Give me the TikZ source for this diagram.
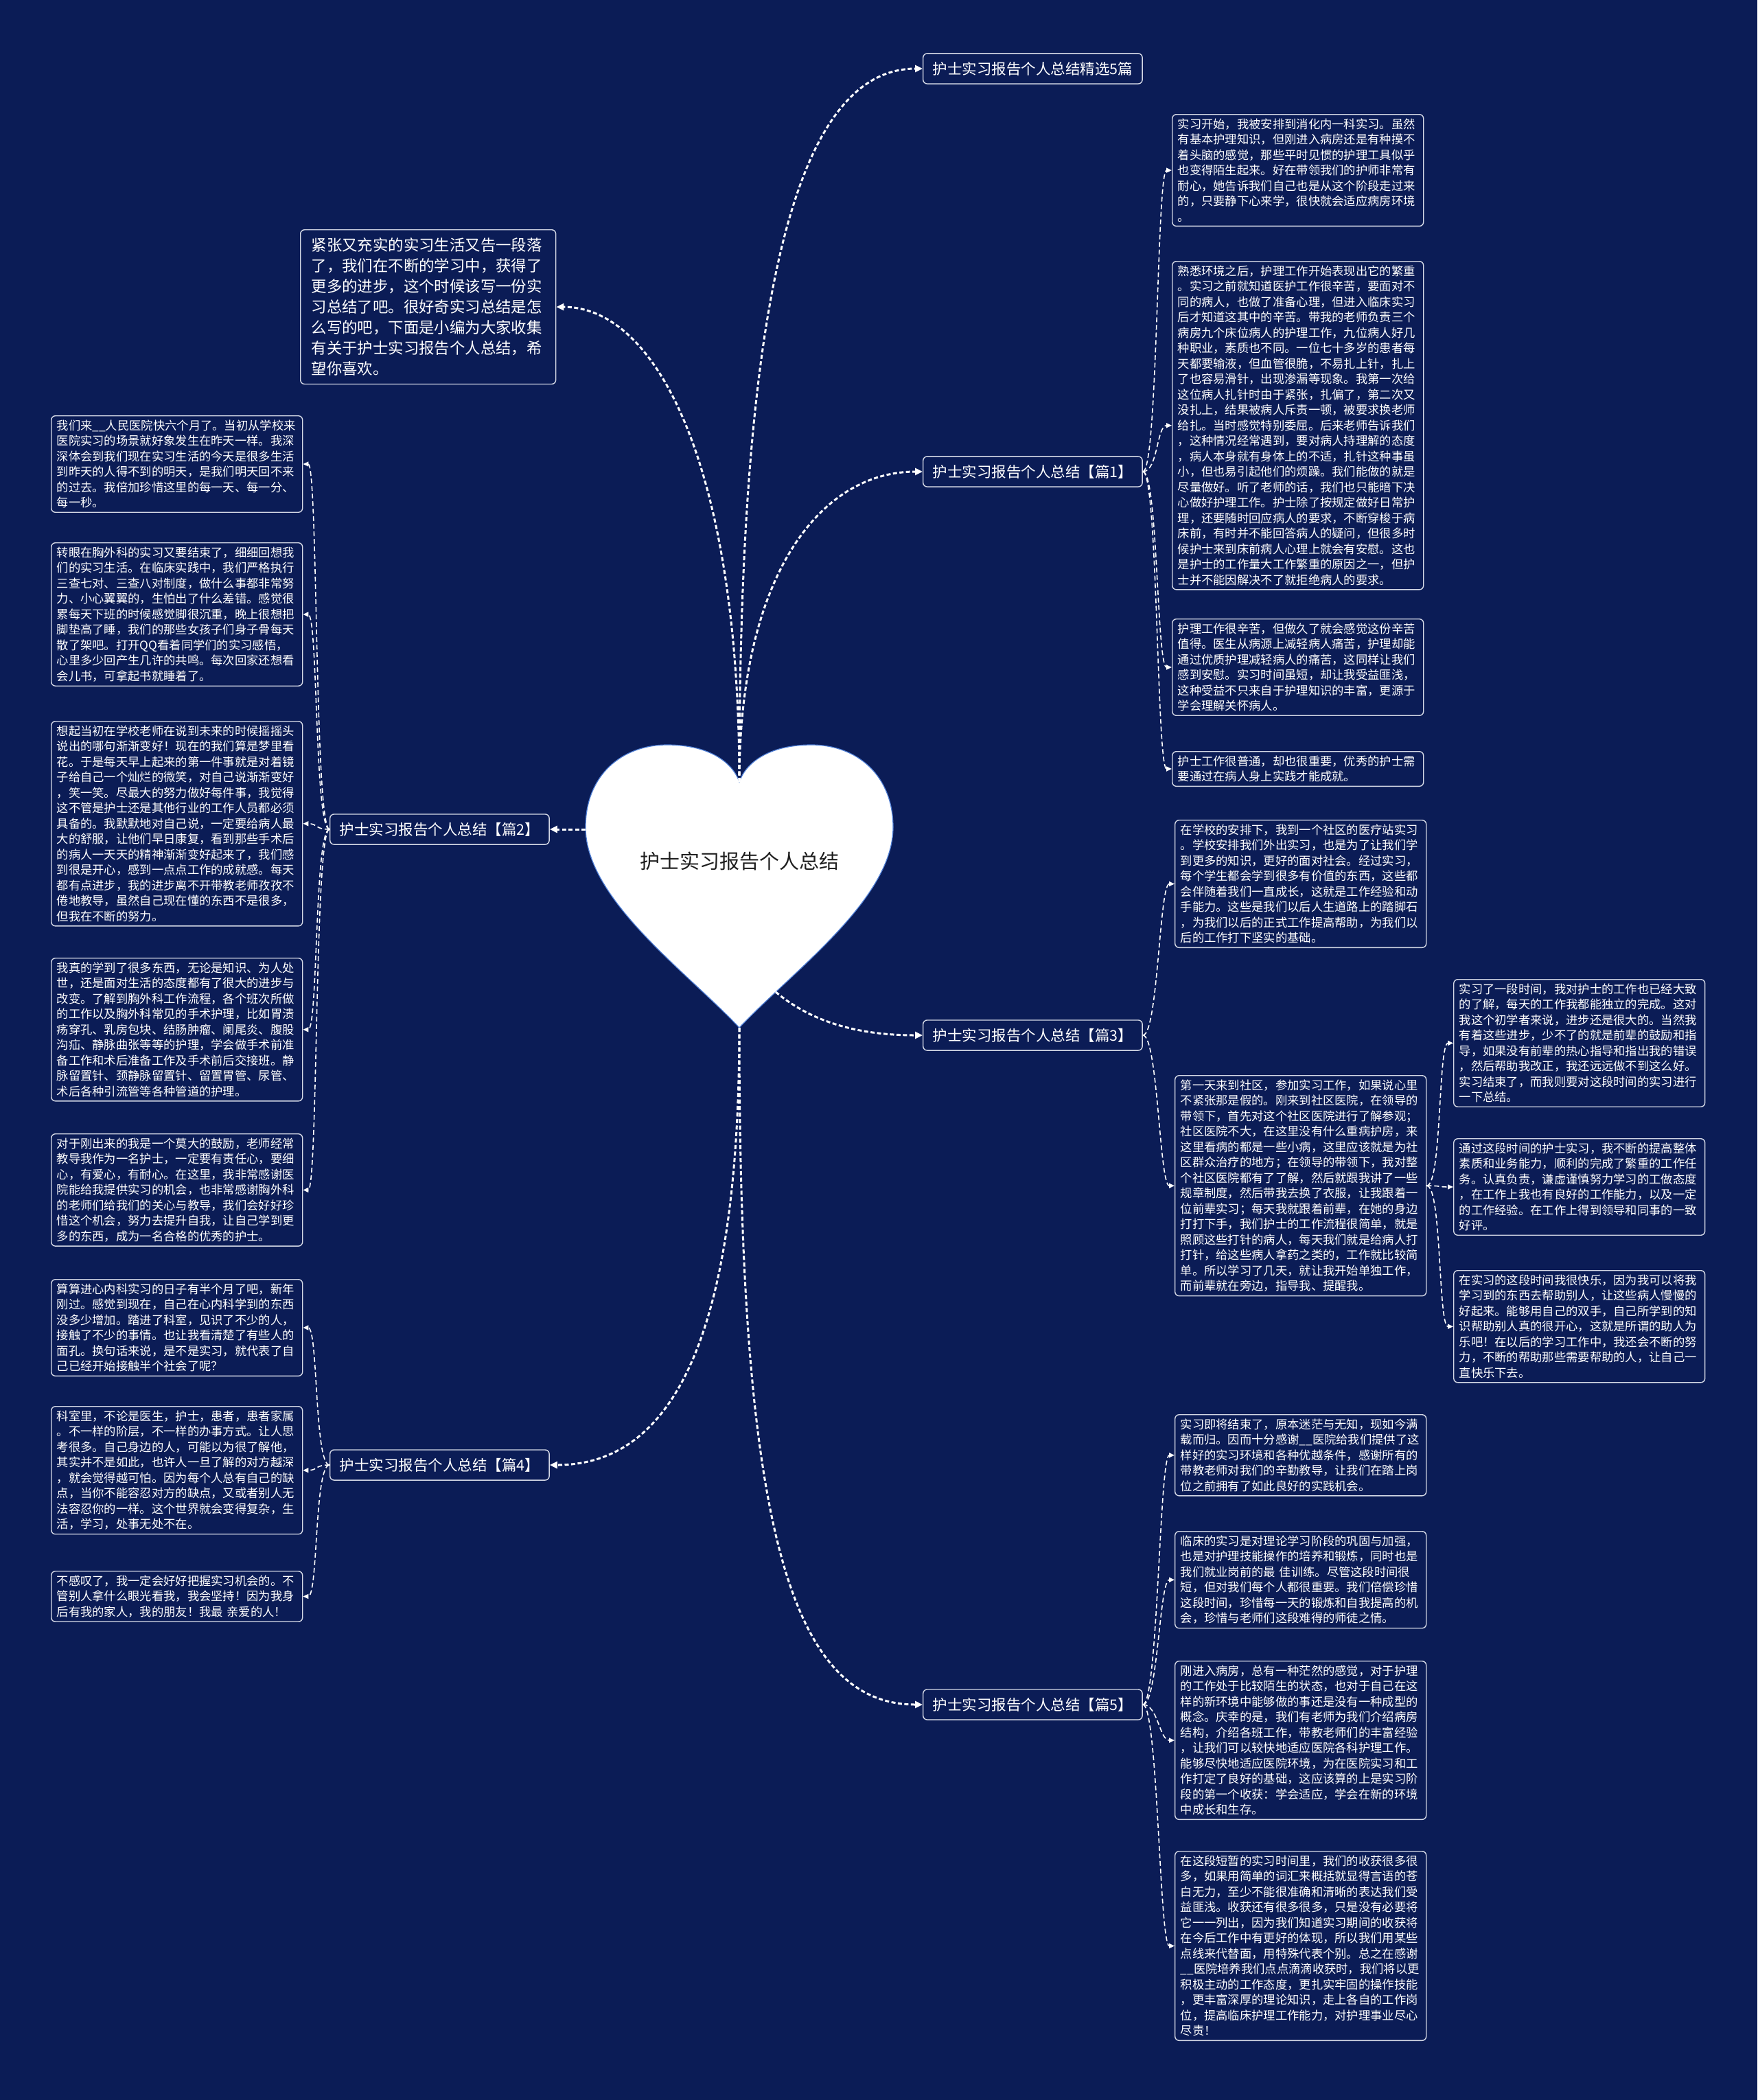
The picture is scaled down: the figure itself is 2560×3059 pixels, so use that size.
\documentclass[tikz,border=0pt]{standalone}
\usepackage{fontspec}
\setmainfont{Noto Sans CJK SC}
\usepackage{tikz}
\usetikzlibrary{arrows.meta}
\definecolor{mmbg}{HTML}{0B1C56}
\definecolor{mmrule}{HTML}{D5D9E6}
\definecolor{mmheart}{HTML}{4F7FD6}
\definecolor{mmink}{HTML}{1E1E1E}

\begin{document}
\begin{tikzpicture}[
  x=1pt,y=-1pt,
  branch/.style={draw=mmrule,fill=mmbg,rounded corners=6pt,line width=1.4pt,text=white,anchor=west,inner xsep=14pt,inner ysep=12pt,font=\fontsize{21.5}{26}\selectfont},
  leaf/.style={draw=mmrule,fill=mmbg,rounded corners=6pt,line width=1.4pt,text=white,anchor=north west,align=left,text width=350pt,inner xsep=8pt,inner ysep=6pt,font=\fontsize{17.3}{22.5}\selectfont},
  intro/.style={leaf,text width=340pt,inner xsep=16pt,inner ysep=12pt,font=\fontsize{22.4}{30}\selectfont},
  trunk/.style={-{Triangle[length=11pt,width=10pt]},draw=white,line width=3pt,dash pattern=on 6pt off 3.5pt},
  twig/.style={-{Triangle[length=8pt,width=7pt]},draw=white,line width=1.6pt,dash pattern=on 7pt off 4pt}
]
\fill[mmbg] (0,0) rectangle (2560,3059);

% heart in the middle
\filldraw[fill=white,draw=mmheart,line width=1.2pt]
  (1077,1497) .. controls (1000,1415) and (853,1310) .. (853,1205)
  .. controls (853,1130) and (905,1085) .. (972,1085)
  .. controls (1035,1085) and (1068,1112) .. (1077,1139)
  .. controls (1086,1112) and (1119,1085) .. (1182,1085)
  .. controls (1249,1085) and (1301,1130) .. (1301,1205)
  .. controls (1301,1310) and (1154,1415) .. (1077,1497) -- cycle;
\node[text=mmink,font=\fontsize{29}{34}\selectfont] (root) at (1077,1254) {护士实习报告个人总结};
\coordinate (hTop) at (1077,1139);
\coordinate (hBot) at (1077,1497);
\coordinate (hLeft) at (853,1208);
\coordinate (hRight) at (1130,1445);

% first level
\node[branch] (top) at (1344,100) {护士实习报告个人总结精选5篇};
\node[intro] (intro) at (437,334) {紧张又充实的实习生活又告一段落\\了，我们在不断的学习中，获得了\\更多的进步，这个时候该写一份实\\习总结了吧。很好奇实习总结是怎\\么写的吧，下面是小编为大家收集\\有关于护士实习报告个人总结，希\\望你喜欢。};
\node[branch] (p1) at (1344,687) {护士实习报告个人总结【篇1】};
\node[branch] (p2) at (480,1208) {护士实习报告个人总结【篇2】};
\node[branch] (p3) at (1344,1508) {护士实习报告个人总结【篇3】};
\node[branch] (p4) at (480,2134) {护士实习报告个人总结【篇4】};
\node[branch] (p5) at (1344,2483) {护士实习报告个人总结【篇5】};

% 篇1
\node[leaf] (a1) at (1707,166) {实习开始，我被安排到消化内一科实习。虽然\\有基本护理知识，但刚进入病房还是有种摸不\\着头脑的感觉，那些平时见惯的护理工具似乎\\也变得陌生起来。好在带领我们的护师非常有\\耐心，她告诉我们自己也是从这个阶段走过来\\的，只要静下心来学，很快就会适应病房环境\\。};
\node[leaf] (a2) at (1707,380) {熟悉环境之后，护理工作开始表现出它的繁重\\。实习之前就知道医护工作很辛苦，要面对不\\同的病人，也做了准备心理，但进入临床实习\\后才知道这其中的辛苦。带我的老师负责三个\\病房九个床位病人的护理工作，九位病人好几\\种职业，素质也不同。一位七十多岁的患者每\\天都要输液，但血管很脆，不易扎上针，扎上\\了也容易滑针，出现渗漏等现象。我第一次给\\这位病人扎针时由于紧张，扎偏了，第二次又\\没扎上，结果被病人斥责一顿，被要求换老师\\给扎。当时感觉特别委屈。后来老师告诉我们\\，这种情况经常遇到，要对病人持理解的态度\\，病人本身就有身体上的不适，扎针这种事虽\\小，但也易引起他们的烦躁。我们能做的就是\\尽量做好。听了老师的话，我们也只能暗下决\\心做好护理工作。护士除了按规定做好日常护\\理，还要随时回应病人的要求，不断穿梭于病\\床前，有时并不能回答病人的疑问，但很多时\\候护士来到床前病人心理上就会有安慰。这也\\是护士的工作量大工作繁重的原因之一，但护\\士并不能因解决不了就拒绝病人的要求。};
\node[leaf] (a3) at (1707,901) {护理工作很辛苦，但做久了就会感觉这份辛苦\\值得。医生从病源上减轻病人痛苦，护理却能\\通过优质护理减轻病人的痛苦，这同样让我们\\感到安慰。实习时间虽短，却让我受益匪浅，\\这种受益不只来自于护理知识的丰富，更源于\\学会理解关怀病人。};
\node[leaf] (a4) at (1707,1094) {护士工作很普通，却也很重要，优秀的护士需\\要通过在病人身上实践才能成就。};

% 篇2
\node[leaf] (b1) at (74,605) {我们来\_\_人民医院快六个月了。当初从学校来\\医院实习的场景就好象发生在昨天一样。我深\\深体会到我们现在实习生活的今天是很多生活\\到昨天的人得不到的明天，是我们明天回不来\\的过去。我倍加珍惜这里的每一天、每一分、\\每一秒。};
\node[leaf] (b2) at (74,790) {转眼在胸外科的实习又要结束了，细细回想我\\们的实习生活。在临床实践中，我们严格执行\\三查七对、三查八对制度，做什么事都非常努\\力、小心翼翼的，生怕出了什么差错。感觉很\\累每天下班的时候感觉脚很沉重，晚上很想把\\脚垫高了睡，我们的那些女孩子们身子骨每天\\散了架吧。打开QQ看着同学们的实习感悟，\\心里多少回产生几许的共鸣。每次回家还想看\\会儿书，可拿起书就睡着了。};
\node[leaf] (b3) at (74,1050) {想起当初在学校老师在说到未来的时候摇摇头\\说出的哪句渐渐变好！现在的我们算是梦里看\\花。于是每天早上起来的第一件事就是对着镜\\子给自己一个灿烂的微笑，对自己说渐渐变好\\，笑一笑。尽最大的努力做好每件事，我觉得\\这不管是护士还是其他行业的工作人员都必须\\具备的。我默默地对自己说，一定要给病人最\\大的舒服，让他们早日康复，看到那些手术后\\的病人一天天的精神渐渐变好起来了，我们感\\到很是开心，感到一点点工作的成就感。每天\\都有点进步，我的进步离不开带教老师孜孜不\\倦地教导，虽然自己现在懂的东西不是很多，\\但我在不断的努力。};
\node[leaf] (b4) at (74,1395) {我真的学到了很多东西，无论是知识、为人处\\世，还是面对生活的态度都有了很大的进步与\\改变。了解到胸外科工作流程，各个班次所做\\的工作以及胸外科常见的手术护理，比如胃溃\\疡穿孔、乳房包块、结肠肿瘤、阑尾炎、腹股\\沟疝、静脉曲张等等的护理，学会做手术前准\\备工作和术后准备工作及手术前后交接班。静\\脉留置针、颈静脉留置针、留置胃管、尿管、\\术后各种引流管等各种管道的护理。};
\node[leaf] (b5) at (74,1651) {对于刚出来的我是一个莫大的鼓励，老师经常\\教导我作为一名护士，一定要有责任心，要细\\心，有爱心，有耐心。在这里，我非常感谢医\\院能给我提供实习的机会，也非常感谢胸外科\\的老师们给我们的关心与教导，我们会好好珍\\惜这个机会，努力去提升自我，让自己学到更\\多的东西，成为一名合格的优秀的护士。};

% 篇3
\node[leaf] (c1) at (1711,1194) {在学校的安排下，我到一个社区的医疗站实习\\。学校安排我们外出实习，也是为了让我们学\\到更多的知识，更好的面对社会。经过实习，\\每个学生都会学到很多有价值的东西，这些都\\会伴随着我们一直成长，这就是工作经验和动\\手能力。这些是我们以后人生道路上的踏脚石\\，为我们以后的正式工作提高帮助，为我们以\\后的工作打下坚实的基础。};
\node[leaf] (c2) at (1711,1566) {第一天来到社区，参加实习工作，如果说心里\\不紧张那是假的。刚来到社区医院，在领导的\\带领下，首先对这个社区医院进行了解参观；\\社区医院不大，在这里没有什么重病护房，来\\这里看病的都是一些小病，这里应该就是为社\\区群众治疗的地方；在领导的带领下，我对整\\个社区医院都有了了解，然后就跟我讲了一些\\规章制度，然后带我去换了衣服，让我跟着一\\位前辈实习；每天我就跟着前辈，在她的身边\\打打下手，我们护士的工作流程很简单，就是\\照顾这些打针的病人，每天我们就是给病人打\\打针，给这些病人拿药之类的，工作就比较简\\单。所以学习了几天，就让我开始单独工作，\\而前辈就在旁边，指导我、提醒我。};
\node[leaf] (c21) at (2117,1426) {实习了一段时间，我对护士的工作也已经大致\\的了解，每天的工作我都能独立的完成。这对\\我这个初学者来说，进步还是很大的。当然我\\有着这些进步，少不了的就是前辈的鼓励和指\\导，如果没有前辈的热心指导和指出我的错误\\，然后帮助我改正，我还远远做不到这么好。\\实习结束了，而我则要对这段时间的实习进行\\一下总结。};
\node[leaf] (c22) at (2117,1658) {通过这段时间的护士实习，我不断的提高整体\\素质和业务能力，顺利的完成了繁重的工作任\\务。认真负责，谦虚谨慎努力学习的工做态度\\，在工作上我也有良好的工作能力，以及一定\\的工作经验。在工作上得到领导和同事的一致\\好评。};
\node[leaf] (c23) at (2117,1850) {在实习的这段时间我很快乐，因为我可以将我\\学习到的东西去帮助别人，让这些病人慢慢的\\好起来。能够用自己的双手，自己所学到的知\\识帮助别人真的很开心，这就是所谓的助人为\\乐吧！在以后的学习工作中，我还会不断的努\\力，不断的帮助那些需要帮助的人，让自己一\\直快乐下去。};

% 篇4
\node[leaf] (d1) at (74,1863) {算算进心内科实习的日子有半个月了吧，新年\\刚过。感觉到现在，自己在心内科学到的东西\\没多少增加。踏进了科室，见识了不少的人，\\接触了不少的事情。也让我看清楚了有些人的\\面孔。换句话来说，是不是实习，就代表了自\\己已经开始接触半个社会了呢？};
\node[leaf] (d2) at (74,2048) {科室里，不论是医生，护士，患者，患者家属\\。不一样的阶层，不一样的办事方式。让人思\\考很多。自己身边的人，可能以为很了解他，\\其实并不是如此，也许人一旦了解的对方越深\\，就会觉得越可怕。因为每个人总有自己的缺\\点，当你不能容忍对方的缺点，又或者别人无\\法容忍你的一样。这个世界就会变得复杂，生\\活，学习，处事无处不在。};
\node[leaf] (d3) at (74,2288) {不感叹了，我一定会好好把握实习机会的。不\\管别人拿什么眼光看我，我会坚持！因为我身\\后有我的家人，我的朋友！我最 亲爱的人！};

% 篇5
\node[leaf] (e1) at (1711,2060) {实习即将结束了，原本迷茫与无知，现如今满\\载而归。因而十分感谢\_\_医院给我们提供了这\\样好的实习环境和各种优越条件，感谢所有的\\带教老师对我们的辛勤教导，让我们在踏上岗\\位之前拥有了如此良好的实践机会。};
\node[leaf] (e2) at (1711,2230) {临床的实习是对理论学习阶段的巩固与加强，\\也是对护理技能操作的培养和锻炼，同时也是\\我们就业岗前的最 佳训练。尽管这段时间很\\短，但对我们每个人都很重要。我们倍偿珍惜\\这段时间，珍惜每一天的锻炼和自我提高的机\\会，珍惜与老师们这段难得的师徒之情。};
\node[leaf] (e3) at (1711,2419) {刚进入病房，总有一种茫然的感觉，对于护理\\的工作处于比较陌生的状态，也对于自己在这\\样的新环境中能够做的事还是没有一种成型的\\概念。庆幸的是，我们有老师为我们介绍病房\\结构，介绍各班工作，带教老师们的丰富经验\\，让我们可以较快地适应医院各科护理工作。\\能够尽快地适应医院环境，为在医院实习和工\\作打定了良好的基础，这应该算的上是实习阶\\段的第一个收获：学会适应，学会在新的环境\\中成长和生存。};
\node[leaf] (e4) at (1711,2696) {在这段短暂的实习时间里，我们的收获很多很\\多，如果用简单的词汇来概括就显得言语的苍\\白无力，至少不能很准确和清晰的表达我们受\\益匪浅。收获还有很多很多，只是没有必要将\\它一一列出，因为我们知道实习期间的收获将\\在今后工作中有更好的体现，所以我们用某些\\点线来代替面，用特殊代表个别。总之在感谢\\\_\_医院培养我们点点滴滴收获时，我们将以更\\积极主动的工作态度，更扎实牢固的操作技能\\，更丰富深厚的理论知识，走上各自的工作岗\\位，提高临床护理工作能力，对护理事业尽心\\尽责！};

% heart to branches
\draw[trunk] (hTop) .. controls +(0,-640) and +(-200,0) .. (top.west);
\draw[trunk] (hTop) .. controls +(0,-450) and +(150,0) .. (intro.east);
\draw[trunk] (hTop) .. controls +(0,-300) and +(-150,0) .. (p1.west);
\draw[trunk] (hLeft) -- (p2.east);
\draw[trunk] (hRight) .. controls +(60,50) and +(-80,0) .. (p3.west);
\draw[trunk] (hBot) .. controls +(0,400) and +(200,0) .. (p4.east);
\draw[trunk] (hBot) .. controls +(0,700) and +(-200,0) .. (p5.west);

% branches to leaves
\draw[twig] (p1.east) .. controls +(22,0) and +(-22,0) .. (a1.west); \draw[twig] (p1.east) .. controls +(22,0) and +(-22,0) .. (a2.west);
\draw[twig] (p1.east) .. controls +(22,0) and +(-22,0) .. (a3.west); \draw[twig] (p1.east) .. controls +(22,0) and +(-22,0) .. (a4.west);
\draw[twig] (p2.west) .. controls +(-22,0) and +(22,0) .. (b1.east); \draw[twig] (p2.west) .. controls +(-22,0) and +(22,0) .. (b2.east);
\draw[twig] (p2.west) .. controls +(-22,0) and +(22,0) .. (b3.east); \draw[twig] (p2.west) .. controls +(-22,0) and +(22,0) .. (b4.east);
\draw[twig] (p2.west) .. controls +(-22,0) and +(22,0) .. (b5.east);
\draw[twig] (p3.east) .. controls +(22,0) and +(-22,0) .. (c1.west); \draw[twig] (p3.east) .. controls +(22,0) and +(-22,0) .. (c2.west);
\draw[twig] (c2.east) .. controls +(22,0) and +(-22,0) .. (c21.west); \draw[twig] (c2.east) .. controls +(22,0) and +(-22,0) .. (c22.west);
\draw[twig] (c2.east) .. controls +(22,0) and +(-22,0) .. (c23.west);
\draw[twig] (p4.west) .. controls +(-22,0) and +(22,0) .. (d1.east); \draw[twig] (p4.west) .. controls +(-22,0) and +(22,0) .. (d2.east);
\draw[twig] (p4.west) .. controls +(-22,0) and +(22,0) .. (d3.east);
\draw[twig] (p5.east) .. controls +(22,0) and +(-22,0) .. (e1.west); \draw[twig] (p5.east) .. controls +(22,0) and +(-22,0) .. (e2.west);
\draw[twig] (p5.east) .. controls +(22,0) and +(-22,0) .. (e3.west); \draw[twig] (p5.east) .. controls +(22,0) and +(-22,0) .. (e4.west);
\end{tikzpicture}
\end{document}
